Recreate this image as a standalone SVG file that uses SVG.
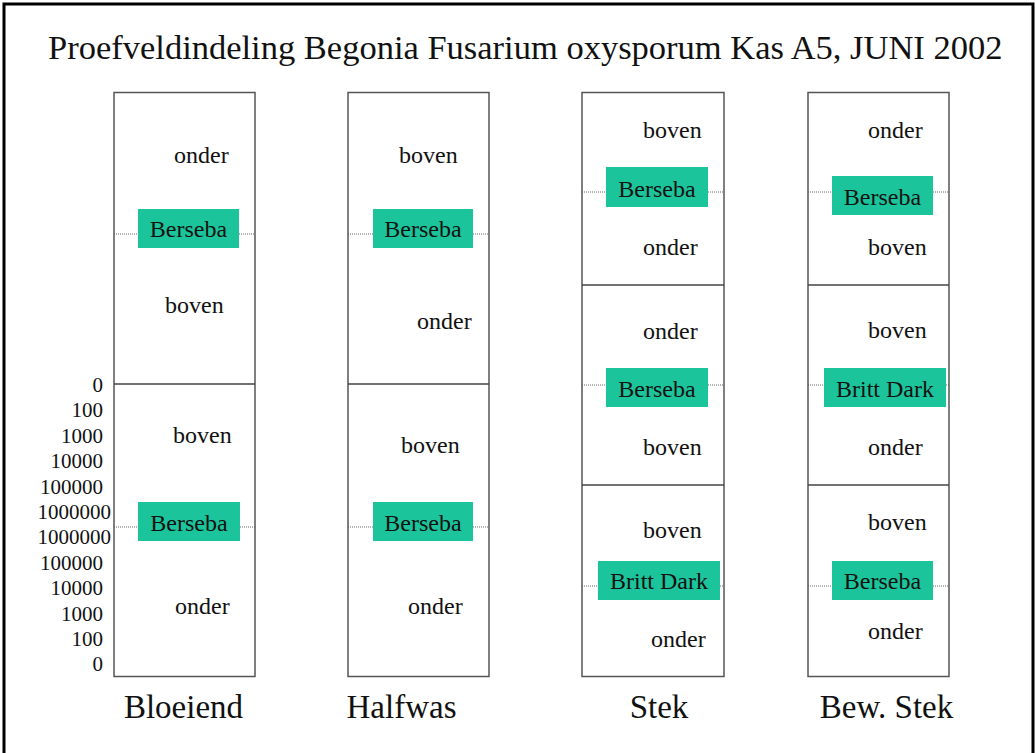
<svg xmlns="http://www.w3.org/2000/svg" width="1035" height="753" viewBox="0 0 1035 753">
<style>
text{font-family:"Liberation Serif","Times New Roman",serif;fill:#111}
.t{font-size:34.5px}
.lab{font-size:33px;text-anchor:middle}
.s{font-size:24px}
.b{font-size:24px;text-anchor:middle}
.n{font-size:21px;text-anchor:end}
.col{fill:none;stroke:#555;stroke-width:1.5}
.div{stroke:#444;stroke-width:1.5}
.box{fill:#1BC49A}
.dot{stroke:#666;stroke-width:1;stroke-dasharray:1 1}
</style>
<rect x="0" y="0" width="1035" height="753" fill="#fff"/>
<rect x="4" y="4" width="1029" height="760" fill="none" stroke="#000" stroke-width="3"/>
<text class="t" x="48" y="59">Proefveldindeling Begonia Fusarium oxysporum Kas A5, JUNI 2002</text>

<g id="scale">
<text class="n" x="103" y="392">0</text>
<text class="n" x="103" y="417.4">100</text>
<text class="n" x="103" y="442.8">1000</text>
<text class="n" x="103" y="468.2">10000</text>
<text class="n" x="103" y="493.6">100000</text>
<text class="n" x="111" y="519">1000000</text>
<text class="n" x="111" y="544.4">1000000</text>
<text class="n" x="103" y="569.8">100000</text>
<text class="n" x="103" y="595.2">10000</text>
<text class="n" x="103" y="620.6">1000</text>
<text class="n" x="103" y="646">100</text>
<text class="n" x="103" y="671.4">0</text>
</g>

<g id="connectors">
<line class="dot" x1="114" y1="234" x2="138" y2="234"/><line class="dot" x1="239" y1="234" x2="255" y2="234"/>
<line class="dot" x1="114" y1="527" x2="138" y2="527"/><line class="dot" x1="240" y1="527" x2="255" y2="527"/>
<line class="dot" x1="348" y1="234" x2="373" y2="234"/><line class="dot" x1="473" y1="234" x2="489" y2="234"/>
<line class="dot" x1="348" y1="527" x2="373" y2="527"/><line class="dot" x1="473" y1="527" x2="489" y2="527"/>
<line class="dot" x1="582" y1="192" x2="606" y2="192"/><line class="dot" x1="708" y1="192" x2="724" y2="192"/>
<line class="dot" x1="582" y1="385" x2="606" y2="385"/><line class="dot" x1="708" y1="385" x2="724" y2="385"/>
<line class="dot" x1="582" y1="586" x2="598" y2="586"/><line class="dot" x1="720" y1="586" x2="724" y2="586"/>
<line class="dot" x1="808" y1="192" x2="832" y2="192"/><line class="dot" x1="933" y1="192" x2="949" y2="192"/>
<line class="dot" x1="808" y1="385" x2="824" y2="385"/><line class="dot" x1="946" y1="385" x2="949" y2="385"/>
<line class="dot" x1="808" y1="586" x2="832" y2="586"/><line class="dot" x1="933" y1="586" x2="949" y2="586"/>
</g>

<g id="bloeiend">
<rect class="col" x="114" y="92.5" width="141" height="584"/>
<line class="div" x1="114" y1="384" x2="255" y2="384"/>
<text class="s" x="174" y="163">onder</text>
<rect class="box" x="138" y="209" width="101" height="39"/>
<text class="b" x="188.5" y="237">Berseba</text>
<text class="s" x="165" y="313">boven</text>
<text class="s" x="173" y="443">boven</text>
<rect class="box" x="138" y="502" width="102" height="39"/>
<text class="b" x="189" y="531">Berseba</text>
<text class="s" x="175" y="614">onder</text>
<text class="lab" x="183.5" y="718">Bloeiend</text>
</g>

<g id="halfwas">
<rect class="col" x="348" y="92.5" width="141" height="584"/>
<line class="div" x1="348" y1="384" x2="489" y2="384"/>
<text class="s" x="399" y="163">boven</text>
<rect class="box" x="373" y="209" width="100" height="39"/>
<text class="b" x="423" y="237">Berseba</text>
<text class="s" x="417" y="329">onder</text>
<text class="s" x="401" y="453">boven</text>
<rect class="box" x="373" y="502" width="100" height="39"/>
<text class="b" x="423" y="531">Berseba</text>
<text class="s" x="408" y="614">onder</text>
<text class="lab" x="401.5" y="718">Halfwas</text>
</g>

<g id="stek">
<rect class="col" x="582" y="92.5" width="142" height="584"/>
<line class="div" x1="582" y1="285" x2="724" y2="285"/>
<line class="div" x1="582" y1="485" x2="724" y2="485"/>
<text class="s" x="643" y="138">boven</text>
<rect class="box" x="606" y="167" width="102" height="40"/>
<text class="b" x="657" y="197">Berseba</text>
<text class="s" x="643" y="255">onder</text>
<text class="s" x="643" y="339">onder</text>
<rect class="box" x="606" y="368" width="102" height="39"/>
<text class="b" x="657" y="397">Berseba</text>
<text class="s" x="643" y="455">boven</text>
<text class="s" x="643" y="538">boven</text>
<rect class="box" x="598" y="561" width="122" height="39"/>
<text class="b" x="659" y="589">Britt Dark</text>
<text class="s" x="651" y="647">onder</text>
<text class="lab" x="659" y="718">Stek</text>
</g>

<g id="bewstek">
<rect class="col" x="808" y="92.5" width="141" height="584"/>
<line class="div" x1="808" y1="285" x2="949" y2="285"/>
<line class="div" x1="808" y1="485" x2="949" y2="485"/>
<text class="s" x="868" y="138">onder</text>
<rect class="box" x="832" y="176" width="101" height="39"/>
<text class="b" x="882.5" y="205">Berseba</text>
<text class="s" x="868" y="255">boven</text>
<text class="s" x="868" y="338">boven</text>
<rect class="box" x="824" y="368" width="122" height="39"/>
<text class="b" x="885" y="397">Britt Dark</text>
<text class="s" x="868" y="455">onder</text>
<text class="s" x="868" y="530">boven</text>
<rect class="box" x="832" y="561" width="101" height="39"/>
<text class="b" x="882.5" y="589">Berseba</text>
<text class="s" x="868" y="639">onder</text>
<text class="lab" x="886.5" y="718">Bew. Stek</text>
</g>
</svg>
